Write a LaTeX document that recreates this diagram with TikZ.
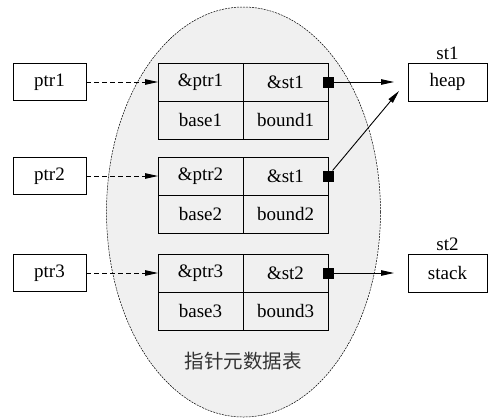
\documentclass[tikz,border=0pt]{standalone}
\usepackage{fontspec}
\setmainfont{Liberation Serif}
\newfontfamily\cjkfont{Noto Sans CJK SC}
\usetikzlibrary{positioning,arrows.meta}

\begin{document}
\begin{tikzpicture}[x=1pt,y=-1pt,every node/.style={outer sep=0pt,font=\fontsize{19}{22}\selectfont},line width=0.9pt,
		cell/.style={draw,minimum width=85pt,minimum height=38pt,inner sep=0pt},
		ptrbox/.style={draw,minimum width=73pt,minimum height=37pt,inner sep=0pt},
		memblock/.style={draw,minimum width=79pt,minimum height=38pt,inner sep=0pt},
		tag/.style={fill,minimum size=11pt,inner sep=0pt},
		link/.style={-{Triangle[length=13pt,width=5.5pt]}},
		ptrlink/.style={link,dash pattern=on 5pt off 3pt}]
		
		\useasboundingbox (0,0) rectangle (489,418);
		
		% metadata table area
		\draw[fill=black!6,line width=0.5pt,dash pattern=on 2pt off 1pt] (243.5,212) ellipse [x radius=137pt,y radius=205pt];
		
		\node[cell] (p1) at (200.5,82) {\&ptr1};
		\node[cell,right=0pt of p1] (s1) {\&st1};
		\node[cell,below=0pt of p1] (b1) {base1};
		\node[cell,below=0pt of s1] (d1) {bound1};
		
		\node[cell,below=18pt of b1] (p2) {\&ptr2};
		\node[cell,right=0pt of p2] (s2) {\&st1};
		\node[cell,below=0pt of p2] (b2) {base2};
		\node[cell,below=0pt of s2] (d2) {bound2};
		
		\node[cell,below=21pt of b2] (p3) {\&ptr3};
		\node[cell,right=0pt of p3] (s3) {\&st2};
		\node[cell,below=0pt of p3] (b3) {base3};
		\node[cell,below=0pt of s3] (d3) {bound3};
		
		\node[font=\cjkfont\fontsize{19.5}{22}\selectfont,text=black!80,below=19pt of b3.south east] (caption) {指针元数据表};
		
		\foreach \X in {1,2,3}
		{
			\node[ptrbox,left=72pt of p\X] (ptr\X) {ptr\X};
			\draw[ptrlink] (ptr\X) -- (p\X);
			\node[tag] (t\X) at (s\X.east) {};
		}
		
		\node[memblock,right=80pt of s1] (heap) {heap};
		\node[above=0pt of heap] (st1) {st1};
		\node[memblock,right=80pt of s3] (stack) {stack};
		\node[above=0pt of stack] (st2) {st2};
		
		\coordinate[left=14pt of heap] (h1);
		\coordinate (h2) at ([xshift=-9pt,yshift=-9pt]heap.west);
		\coordinate[left=14pt of stack] (h3);
		
		\draw[link] (t1) -- (h1);
		\draw[link] (t2) -- (h2);
		\draw[link] (t3) -- (h3);
		
	\end{tikzpicture}
\end{document}
